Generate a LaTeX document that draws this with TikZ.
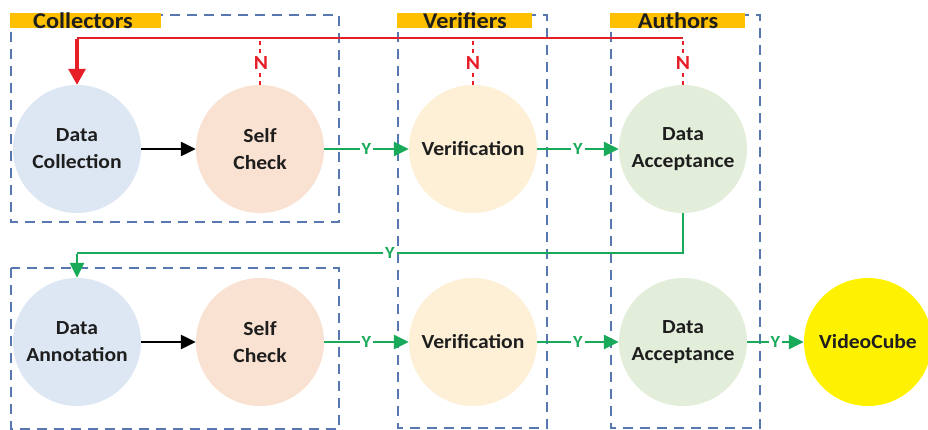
\documentclass[tikz,border=0pt]{standalone}
\usepackage{fontspec}
\setmainfont{Carlito}[FakeStretch=1.08]
\usetikzlibrary{arrows.meta}
\definecolor{boxblue}{RGB}{88,118,175}
\definecolor{hdrorange}{RGB}{255,192,0}
\definecolor{cblue}{RGB}{221,231,243}
\definecolor{cpeach}{RGB}{250,226,210}
\definecolor{cyellow}{RGB}{253,240,214}
\definecolor{cgreen}{RGB}{226,238,218}
\definecolor{vyellow}{RGB}{255,242,0}
\definecolor{grn}{RGB}{24,170,88}
\definecolor{rd}{RGB}{230,30,40}
\definecolor{txt}{RGB}{30,30,30}
\begin{document}
\begin{tikzpicture}[x=1pt,y=-1pt,
  circ/.style={circle, minimum size=128pt, inner sep=0pt, align=center,
    font=\fontsize{20}{27}\selectfont\bfseries, text=txt},
  dbox/.style={draw=boxblue, line width=2.5pt, dash pattern=on 10pt off 7pt},
  hdrtext/.style={inner sep=0pt, text=txt, font=\fontsize{22.5}{22.5}\selectfont\bfseries},
  ylab/.style={fill=white, text=grn, inner xsep=2pt, inner ysep=0pt,
    font=\fontsize{17}{17}\selectfont\bfseries},
  nlab/.style={fill=white, text=rd, inner xsep=1pt, inner ysep=1pt,
    font=\fontsize{20}{20}\selectfont\bfseries},
  gline/.style={draw=grn, line width=2.6pt},
  garrow/.style={draw=grn, line width=2.6pt, -{Triangle[length=15pt,width=14pt]}},
  barrow/.style={draw=black, line width=2.4pt, -{Triangle[length=15pt,width=14pt]}},
  rdash/.style={draw=rd, line width=2.5pt, dash pattern=on 4pt off 4pt},
  rline/.style={draw=rd, line width=2.6pt},
  rarrow/.style={draw=rd, line width=3.2pt, -{Triangle[length=16pt,width=17pt]}}
]
\useasboundingbox (0,0) rectangle (928,430);
\fill[white] (0,0) rectangle (928,430);

% group boxes
\draw[dbox] (11,15) rectangle (339,222);
\draw[dbox] (11,268) rectangle (339,429);
\draw[dbox] (398,15) rectangle (547,428);
\draw[dbox] (611,15) rectangle (760,428);

% header bars
\fill[hdrorange] (10,13.5) rectangle (161,28);
\fill[hdrorange] (397,13.5) rectangle (532,28);
\fill[hdrorange] (610,13.5) rectangle (745,28);
\node[hdrtext] (hcol) at (83,21) {Collectors};
\node[hdrtext] (hver) at (465,21) {Verifiers};
\node[hdrtext] (haut) at (678,21) {Authors};

% nodes
\node[circ, fill=cblue]   (dc)  at (77,149)  {Data\\Collection};
\node[circ, fill=cpeach]  (sc1) at (260,149) {Self\\Check};
\node[circ, fill=cyellow] (v1)  at (473,149) {Verification};
\node[circ, fill=cgreen]  (da1) at (683,149) {Data\\Acceptance};

\node[circ, fill=cblue]   (an)  at (77,342)  {Data\\Annotation};
\node[circ, fill=cpeach]  (sc2) at (260,342) {Self\\Check};
\node[circ, fill=cyellow] (v2)  at (473,342) {Verification};
\node[circ, fill=cgreen]  (da2) at (683,342) {Data\\Acceptance};
\node[circ, fill=vyellow] (vc)  at (868,342) {VideoCube};

% red feedback
\coordinate (rl) at (77,38);
\coordinate (rr) at (683,38);
\draw[rdash] (sc1.north) -- (sc1.north |- rl);
\draw[rdash] (v1.north) -- (v1.north |- rl);
\draw[rdash] (da1.north) -- (da1.north |- rl);
\node[nlab] (n1) at (261,63) {N};
\node[nlab] (n2) at (473,63) {N};
\node[nlab] (n3) at (683,63) {N};
\draw[rline] (rr) -- (rl);
\draw[rarrow] ([yshift=-1.3pt]rl) -- (dc.north);

% top row
\draw[barrow] (dc.east) -- (sc1.west);
\draw[garrow] (sc1.east) -- node[ylab] (y1) {Y} (v1.west);
\draw[garrow] (v1.east) -- node[ylab] (y2) {Y} (da1.west);

% acceptance to annotation
\coordinate (gl) at (77,253);
\draw[gline] (da1.south) |- (gl);
\draw[garrow] ([yshift=-1.3pt]gl) -- (an.north);
\node[ylab] (y3) at (390,253) {Y};

% bottom row
\draw[barrow] (an.east) -- (sc2.west);
\draw[garrow] (sc2.east) -- node[ylab] (y4) {Y} (v2.west);
\draw[garrow] (v2.east) -- node[ylab] (y5) {Y} (da2.west);
\draw[garrow] (da2.east) -- node[ylab] (y6) {Y} (vc.west);
\end{tikzpicture}
\end{document}
